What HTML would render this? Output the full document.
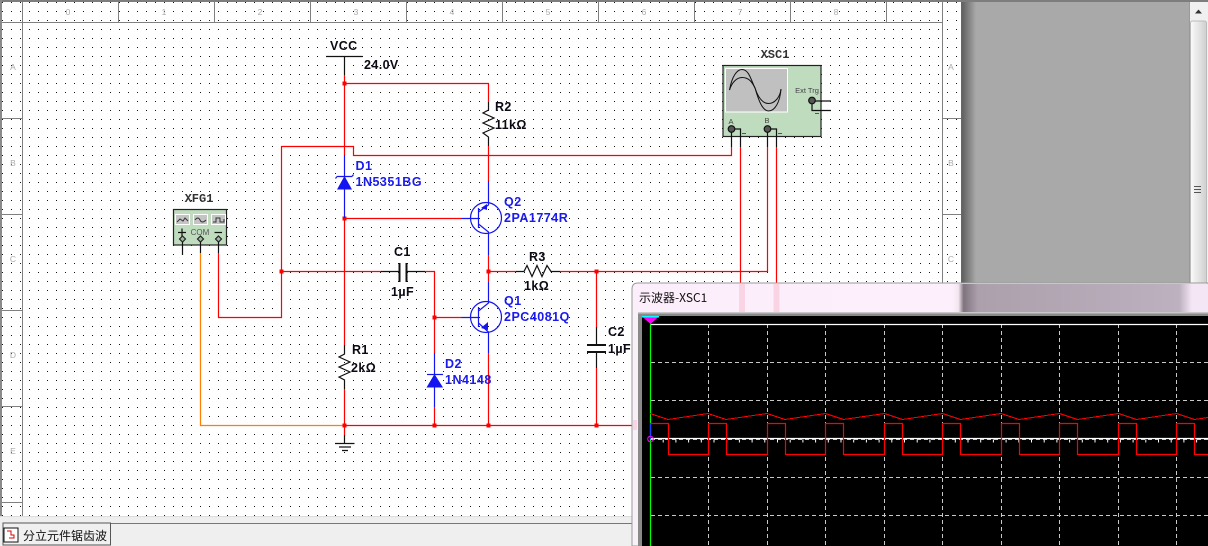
<!DOCTYPE html>
<html><head><meta charset="utf-8"><style>
html,body{margin:0;padding:0;background:#fff}
body{width:1208px;height:546px;overflow:hidden}
svg{display:block}
.b{font:bold 12.5px "Liberation Sans",sans-serif;fill:#0a0a14;letter-spacing:.4px}
.u{font:bold 12.5px "Liberation Sans",sans-serif;fill:#1a1af0;letter-spacing:.5px}
.r{font:8.5px "Liberation Sans",sans-serif;fill:#aaa;text-anchor:middle}
.m{font:bold 12px "Liberation Mono",monospace;fill:#333;text-anchor:middle}
.s{font:7.5px "Liberation Sans",sans-serif;fill:#444;text-anchor:middle}
</style></head><body>
<svg width="1208" height="546" viewBox="0 0 1208 546" xmlns="http://www.w3.org/2000/svg">
<defs>
<pattern id="d" x="2" y="2" width="9" height="9" patternUnits="userSpaceOnUse"><rect width="1" height="1" fill="#111"/></pattern>
<linearGradient id="sh" x1="0" x2="1" y1="0" y2="0"><stop offset="0" stop-color="#5f5f5f"/><stop offset="1" stop-color="#a9a9a9"/></linearGradient>
<linearGradient id="sc" x1="0" x2="1" y1="0" y2="0"><stop offset="0" stop-color="#fbfbfb"/><stop offset="1" stop-color="#cfcfcf"/></linearGradient>
<linearGradient id="tb" x1="0" x2="1" y1="0" y2="0">
<stop offset="0" stop-color="#fdeefb"/><stop offset=".555" stop-color="#fdeffb"/><stop offset=".566" stop-color="#f4e6f1"/><stop offset=".575" stop-color="#7e747e"/><stop offset=".6" stop-color="#aca0ac"/><stop offset=".95" stop-color="#bdb0bf"/><stop offset=".972" stop-color="#f4e6f4"/><stop offset="1" stop-color="#f4e6f4"/></linearGradient>
</defs>
<rect width="1208" height="546" fill="#a9a9a9"/>
<rect x="962" y="2" width="14" height="282" fill="url(#sh)"/>
<rect y="0" width="1208" height="2" fill="#7d7d7d"/>
<rect x="0" y="0" width="962" height="516" fill="#fff"/>
<rect x="0" y="0" width="962" height="516" fill="url(#d)"/>
<rect y="0" width="1208" height="2" fill="#7d7d7d"/>
<rect x="0" y="0" width="2" height="516" fill="#8a8a8a"/>
<rect x="961" y="2" width="1.5" height="282" fill="#666"/>
<!-- rulers -->
<g stroke="#808080" stroke-width="1" fill="none">
<path d="M2 22.5H942.5M22.5 2V516M942.5 2V284"/>
<path d="M118.5 2V22M214.5 2V22M310.5 2V22M406.5 2V22M502.5 2V22M598.5 2V22M694.5 2V22M790.5 2V22M886.5 2V22"/>
<path d="M2 118.5H22M2 214.5H22M2 310.5H22M2 406.5H22M2 502.5H22"/>
<path d="M943 118.5H961M943 214.5H961"/>
</g>
<g class="r">
<text x="68" y="15" class="r">0</text><text x="164" y="15" class="r">1</text><text x="260" y="15" class="r">2</text><text x="356" y="15" class="r">3</text><text x="452" y="15" class="r">4</text><text x="548" y="15" class="r">5</text><text x="644" y="15" class="r">6</text><text x="740" y="15" class="r">7</text><text x="836" y="15" class="r">8</text>
<text x="13" y="70" class="r">A</text><text x="13" y="166" class="r">B</text><text x="13" y="262" class="r">C</text><text x="13" y="358" class="r">D</text><text x="13" y="454" class="r">E</text>
<text x="951" y="70" class="r">A</text><text x="951" y="166" class="r">B</text><text x="951" y="262" class="r">C</text>
</g>
<!-- scrollbar -->
<rect x="1189" y="2" width="19" height="282" fill="#f0f0f0"/>
<rect x="1189" y="2" width="1" height="282" fill="#999"/>
<rect x="1190.5" y="21" width="16" height="263" rx="2" fill="url(#sc)" stroke="#bbb"/>
<path d="M1195 13.5L1198.5 9.5L1202 13.5Z" fill="#333"/>
<path d="M1194 186.5h7M1194 189.5h7M1194 192.5h7" stroke="#555"/>
<!-- status -->
<rect x="0" y="516" width="1208" height="30" fill="#efefef"/>
<rect x="0" y="516" width="962" height="1" fill="#dcdcdc"/>
<path d="M110.5 523.5H640" stroke="#777" stroke-width="1"/>
<path d="M3 545V523H110.5V545Z" fill="#f0f0f0" stroke="#555" stroke-width="1"/>
<rect x="4" y="528" width="14" height="14" fill="#fff" stroke="#111"/>
<path d="M7 531h4v4h3v3h-5" fill="none" stroke="#d00" stroke-width="1"/>
<text x="23" y="540" style="font:12px 'Noto Sans CJK SC',sans-serif;fill:#111">分立元件锯齿波</text>

<!-- red wires -->
<g fill="none" stroke="#f00" stroke-width="1.2">
<path d="M344.5 75V155"/>
<path d="M344.5 83.5H488.5V102"/>
<path d="M488.5 146V181"/>
<path d="M281.5 271.5V146.5H353.5V155.5H731.5V147"/>
<path d="M218.5 253V317.5H281.5V271.5"/>
<path d="M281.5 271.5H381"/>
<path d="M344.5 218.5H461.5"/>
<path d="M344.5 218V345"/>
<path d="M344.5 389V435"/>
<path d="M425 271.5H434.5V353"/>
<path d="M434.5 317.5H461.5"/>
<path d="M434.5 407V425.5"/>
<path d="M488.5 255V282"/>
<path d="M488.5 353V425.5"/>
<path d="M488.5 271.5H516"/>
<path d="M560 271.5H767.5V147"/>
<path d="M596.5 271.5V327"/>
<path d="M596.5 368V425.5"/>
<path d="M740.5 147V284"/>
<path d="M776.5 147V284"/>
<path d="M344.5 425.5H640"/>
</g>
<path d="M200.5 253V425.5H344" fill="none" stroke="#ff8000" stroke-width="1.2"/>
<!-- junctions -->
<g fill="#f00">
<rect x="342.5" y="81.5" width="4" height="4"/><rect x="342.5" y="216.5" width="4" height="4"/><rect x="279.5" y="269.5" width="4" height="4"/>
<rect x="432.5" y="315.5" width="4" height="4"/><rect x="486.5" y="269.5" width="4" height="4"/><rect x="594.5" y="269.5" width="4" height="4"/>
<rect x="342.5" y="423.5" width="4" height="4"/><rect x="432.5" y="423.5" width="4" height="4"/><rect x="486.5" y="423.5" width="4" height="4"/><rect x="594.5" y="423.5" width="4" height="4"/>
</g>
<!-- black parts -->
<g fill="none" stroke="#111" stroke-width="1.2">
<path d="M326 56.5H362.5M344.5 56.5V75"/>
<path d="M344.5 435V443.5M335 443.5H354.5M339 447H351M342 450.5H348"/>
<path d="M488.5 102V110L483 113L494 118L483 123L494 128L483 133L488.5 137V146"/>
<path d="M344.5 345V354L339 357L350 362L339 367L350 372L339 377L344.5 380V389"/>
<path d="M516 271.5H524L527 265.5L532 276.5L537 265.5L542 276.5L547 265.5L551 271.5H560"/>
<path d="M381 271.5H399M407 271.5H425"/>
<path d="M399.5 263V282M406.5 263V282" stroke-width="2"/>
<path d="M596.5 327V345M596.5 352V368"/>
<path d="M587 345H606M587 352H606" stroke-width="2"/>
</g>
<!-- blue parts -->
<g fill="none" stroke="#1414f0" stroke-width="1.2">
<path d="M344.5 155V218"/>
<path d="M337 176.5H352M337 176.5L335.5 178.5M352 176.5L353.5 174.5"/>
<path d="M434.5 353V407"/>
<path d="M427 374.5H443"/>
<circle cx="486" cy="218" r="15.5"/>
<circle cx="486" cy="317" r="15.5"/>
<path d="M461.5 218.5H479M478.5 208V228M478.5 212L488.5 205V181M478.5 224L488.5 232V255"/>
<path d="M461.5 317.5H479M478.5 307V327M478.5 311L488.5 303V282M478.5 323L488.5 332V353"/>
</g>
<path d="M337 189.5L344.5 176L352 189.5Z" fill="#1414f0"/>
<path d="M426.5 387.5L434.5 374L443 387.5Z" fill="#1414f0"/>
<path d="M481 208L487 204L487 210Z" fill="#1414f0"/>
<path d="M481 328L488 322L488 330Z" fill="#1414f0"/>
<!-- labels -->
<text x="330" y="50" class="b">VCC</text><text x="364" y="69" class="b">24.0V</text>
<text x="495" y="111" class="b">R2</text><text x="495" y="129" class="b">11kΩ</text>
<text x="355.5" y="170" class="u">D1</text><text x="355.5" y="186" class="u">1N5351BG</text>
<text x="504" y="206" class="u">Q2</text><text x="504" y="222" class="u">2PA1774R</text>
<text x="394" y="256" class="b">C1</text><text x="391" y="296" class="b">1µF</text>
<text x="529" y="261" class="b">R3</text><text x="524" y="290" class="b">1kΩ</text>
<text x="504" y="305" class="u">Q1</text><text x="504" y="321" class="u">2PC4081Q</text>
<text x="608" y="336" class="b">C2</text><text x="608" y="353" class="b">1µF</text>
<text x="352" y="354" class="b">R1</text><text x="351" y="372" class="b">2kΩ</text>
<text x="445" y="368" class="u">D2</text><text x="445" y="384" class="u">1N4148</text>
<!-- XFG1 -->
<text x="199" y="202" class="m">XFG1</text>
<rect x="173.5" y="209.5" width="53" height="35.5" fill="#bfdcbf" stroke="#222" stroke-width="1.2"/>
<g fill="#c4c4c4" stroke="#fff"><rect x="175.5" y="214.5" width="14" height="10"/><rect x="193.5" y="214.5" width="14" height="10"/><rect x="211.5" y="214.5" width="14" height="10"/></g>
<g fill="none" stroke="#333"><path d="M177 222L180 219L183 221L185 218L188 221"/><path d="M195 220Q198 216 200 220T206 220"/><path d="M213 222H216V218H220V222H224V219"/></g>
<path d="M178 232.5H186M182 228.5V236.5M214.500 232.500H222" stroke="#111" stroke-width="1.2"/>
<text x="200" y="235" style="font:8px 'Liberation Sans',sans-serif;fill:#555;text-anchor:middle">COM</text>
<g fill="#9fb89f" stroke="#222" stroke-width="1.2"><path d="M182.500 236l3 3-3 3-3-3z"/><path d="M200.500 236l3 3-3 3-3-3z"/><path d="M218.500 236l3 3-3 3-3-3z"/></g>
<path d="M182.500 242V255M200.500 242V253M218.500 242V253" stroke="#111" stroke-width="1.2"/>
<!-- XSC1 -->
<text x="775" y="58" class="m">XSC1</text>
<rect x="723" y="65.500" width="98" height="71" fill="#bfdcbf" stroke="#222" stroke-width="1.2"/>
<rect x="725.500" y="68.500" width="62" height="43.500" fill="#c0c0c0" stroke="#fff"/>
<g fill="none" stroke="#111" stroke-width="1"><path d="M729.500 90C732 76 737 69.500 742 69.500C749 69.500 751 80 755 88C759 102 763 111 768.500 111C775 111 780 102 781 89"/><path d="M729.500 90C732 82 737 77.500 742 77.500C749 77.500 752 82 755 88C758 97 762 103.500 768.500 103.500C775 103.500 780 97 781 89"/></g>
<text x="807" y="93" class="s">Ext Trg</text><text x="731" y="124" class="s">A</text><text x="767" y="123" class="s">B</text>
<g fill="none" stroke="#111" stroke-width="1.2">
<path d="M812 101H831M812 101V110.500H831"/>
<path d="M731.500 129V147M731.500 129H740.500V147M767.500 129V147M767.500 129H776.500V147"/>
</g>
<g fill="#555" stroke="#111" stroke-width="1.2"><circle cx="731.500" cy="129" r="3.300"/><circle cx="767.500" cy="129" r="3.300"/><circle cx="812" cy="100.500" r="3.300"/></g>
<path d="M742 133.500H746M778 133.500H782M815 113.500H819" stroke="#555"/>

<!-- oscilloscope window -->
<path d="M632 546V289Q632 283 638 283H1208V546Z" fill="#f8f2f8" stroke="#9a9a9a" stroke-width="1"/>
<path d="M633 312V290Q633 284 639 284H1208V312Z" fill="url(#tb)"/>
<rect x="739" y="284" width="6" height="28" fill="#fbd4e4"/><rect x="773.500" y="284" width="6" height="28" fill="#fbd4e4"/>
<rect x="633" y="420" width="4" height="10" fill="#fbd4e4"/>
<text x="639" y="302" style="font:12px 'Noto Sans CJK SC','Liberation Sans',sans-serif;fill:#111">示波器-XSC1</text>
<rect x="638" y="312" width="570" height="234" fill="#8a8a8a"/>
<rect x="638" y="312" width="570" height="1.500" fill="#c8c8c8"/>
<rect x="642" y="316" width="566" height="230" fill="#000"/>
<g stroke="#c8c8c8" stroke-width="1" stroke-dasharray="4 3" fill="none">
<path d="M708.500 324V546M767.500 324V546M825.500 324V546M884.500 324V546M942.500 324V546M1001.500 324V546M1059.500 324V546M1118.500 324V546M1176.500 324V546"/>
<path d="M651 362.500H1208M651 400.500H1208M651 477.500H1208M651 515.500H1208M651 439.500H1208"/>
</g>
<path d="M650 324.500H1208M650 438.500H1208" stroke="#fff" stroke-width="1.200"/>
<path d="M650 441H1208" stroke="#fff" stroke-width="3" stroke-dasharray="1 11.700"/>
<path d="M650.500 316V546" stroke="#0f0" stroke-width="1.200"/>
<path d="M650.500 423V439" stroke="#14f" stroke-width="1.200"/>
<path d="M642 316.500H659L650.500 324Z" fill="#f0f"/><path d="M642 316H659V317.500H642Z" fill="#0ff"/>
<circle cx="650.500" cy="439" r="2.800" fill="none" stroke="#f0f"/>
<path fill="none" stroke="#f00" stroke-width="1" shape-rendering="crispEdges" d="M650 413.500L668 419.500L708 413.500L726 419.500L767 413.500L785 419.500L825.500 413.500L843.500 419.500L884.500 413.500L902.500 419.500L942.500 413.500L960.500 419.500L1001 413.500L1019 419.500L1059.500 413.500L1077.500 419.500L1118.500 413.500L1136.500 419.500L1176.500 413.500L1194.500 419.500L1208 417.500"/>
<path fill="none" stroke="#f00" stroke-width="1.200" d="M650.500 423.500H668.500V454.500H708.500V423.500H726.500V454.500H767.500V423.500H785.500V454.500H825.500V423.500H843.500V454.500H884.500V423.500H902.500V454.500H942.500V423.500H960.500V454.500H1001.500V423.500H1019.500V454.500H1059.500V423.500H1077.500V454.500H1118.500V423.500H1136.500V454.500H1176.500V423.500H1194.500V454.500H1208"/>
</svg>
</body></html>
